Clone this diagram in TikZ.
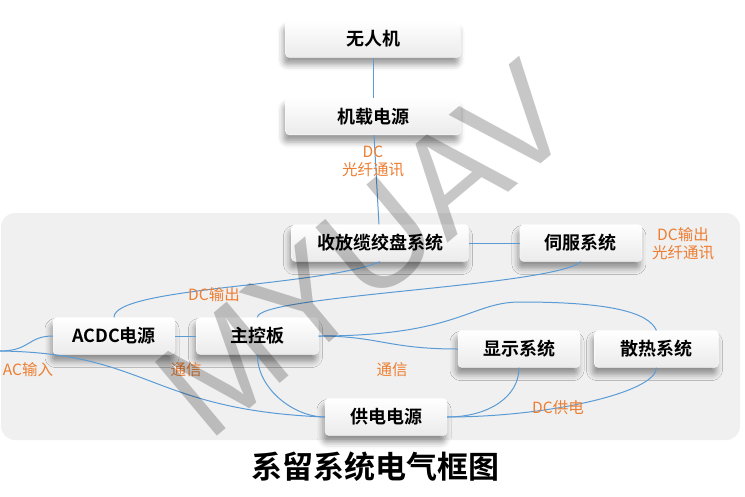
\documentclass[tikz,border=0pt]{standalone}
\usepackage{fontspec}
\setmainfont{Noto Sans CJK SC}[BoldFont={Noto Sans CJK SC Bold}]
\newfontfamily\markfont{Liberation Sans}
\usetikzlibrary{positioning,shadows.blur}
\definecolor{linkblue}{HTML}{5B9BD5}
\definecolor{noteorange}{HTML}{ED7D31}
\tikzstyle{block}=[
	rectangle,
	rounded corners=4pt,
	draw=white,
	top color=white,
	bottom color=gray!16,
	minimum width=122pt,
	minimum height=37pt,
	font=\fontsize{18}{20}\selectfont\bfseries,
	blur shadow={shadow xshift=-2pt, shadow yshift=-7pt, shadow blur radius=6pt}
]
\tikzstyle{wide}=[minimum width=175pt]
\tikzstyle{link}=[draw=linkblue, line width=1pt]
\tikzstyle{note}=[
	text=noteorange,
	font=\fontsize{15.5}{18}\selectfont,
	align=center,
	inner sep=0pt
]
\tikzstyle{heading}=[font=\fontsize{31}{36}\selectfont\bfseries]
\tikzstyle{watermark}=[
	font=\markfont\fontsize{140}{140}\selectfont,
	text=black,
	text opacity=0.22,
	rotate=40
]

\begin{document}
\begin{tikzpicture}[x=1pt,y=-1pt]
\useasboundingbox (0,0) rectangle (745,496);
\fill [gray!12, rounded corners=14pt] (1,213) rectangle (740,440);

\node [block, wide] (wrj) at (373,39) {无人机};
\node [block, wide] (jzdy) [below=40pt of wrj] {机载电源}
	edge [link] (wrj);
\node [block, minimum width=177pt] (sfl) at (380,243) {收放缆绞盘系统}
	edge [link] (jzdy);
\node [block] (sf) [right=51pt of sfl] {伺服系统}
	edge [link] (sfl);
\node [block] (acdc) at (114,336) {ACDC电源};
\node [block] (zk) [right=21pt of acdc] {主控板}
	edge [link] (acdc);
\node [block] (xs) at (519,349) {显示系统};
\node [block, minimum width=124pt] (sr) [right=14pt of xs] {散热系统};
\node [block] (gd) at (386,417) {供电电源};

\coordinate (acin) at (0,351);
\coordinate (bend) at (520,302);
\draw [link] (acdc.north) .. controls +(0,-30) and +(-60,25) .. (sfl.south);
\draw [link] (zk.north) .. controls +(0,-22) and +(-30,25) .. (sf.south);
\draw [link] (acin) .. controls +(30,0) and +(-25,0) .. (acdc.west);
\draw [link] (acin) .. controls +(150,2) and +(-175,-7) .. (gd.west);
\draw [link] (zk.south) .. controls +(0,35) and +(-30,0) .. (gd.west);
\draw [link] (zk.east) .. controls +(60,0) and +(-70,0) .. (xs.west);
\draw [link] (zk.east) .. controls +(140,0) and +(-50,0) .. (bend)
	.. controls +(90,0) and +(-8,-18) .. (sr.north);
\draw [link] (xs.south) .. controls +(0,30) and +(40,0) .. (gd.east);
\draw [link] (sr.south) .. controls +(0,25) and +(100,0) .. (gd.east);

\node [note] (fibre) at (373,161) {DC\\光纤通讯};
\node [note] (servonote) at (683,244) {DC输出\\光纤通讯};
\node [note] (dcout) at (214,295) {DC输出};
\node [note] (acnote) at (28,370) {AC输入};
\node [note] (comm) at (186,370) {通信};
\node [note] (comm2) at (392,370) {通信};
\node [note] (dcfeed) at (558,408) {DC供电};

\node [heading] (title) at (375,467) {系留系统电气框图};
\node [watermark] (mark) at (365,250) {MYUAV};
\end{tikzpicture}
\end{document}
